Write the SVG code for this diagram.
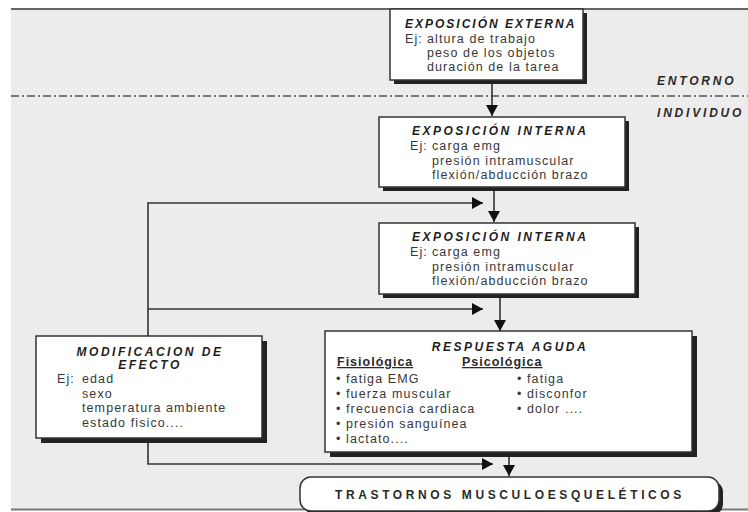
<svg xmlns="http://www.w3.org/2000/svg" width="748" height="512" viewBox="0 0 748 512">
<style>
text{font-family:"Liberation Sans",Arial,sans-serif;fill:#2a2a2a}
.t{font-size:12px;font-weight:bold;font-style:italic;letter-spacing:2.5px;fill:#1e1e1e}
.b{font-size:12.5px;letter-spacing:1.1px;fill:#383838}
.u{font-size:12.5px;font-weight:bold;text-decoration:underline;letter-spacing:1px}
.z{font-size:12px;font-weight:bold;font-style:italic;letter-spacing:2.8px}
.box{fill:#fff;stroke:#333;stroke-width:1.5}
.sh{fill:#222}
.c{fill:none;stroke:#333;stroke-width:1.6}
</style>
<defs>
<marker id="ah" markerUnits="userSpaceOnUse" markerWidth="12" markerHeight="12" refX="11" refY="6" orient="auto">
<path d="M0,0 L11,6 L0,12 z" fill="#111"/>
</marker>
</defs>
<rect x="11" y="9" width="737" height="500" fill="#ececec"/>
<line x1="11" y1="9" x2="748" y2="9" stroke="#666" stroke-width="2"/>
<line x1="11" y1="509.5" x2="748" y2="509.5" stroke="#777" stroke-width="2"/>
<line x1="11" y1="96" x2="748" y2="96" stroke="#777" stroke-width="2" stroke-dasharray="8 3 2 3"/>
<text class="z" x="657" y="85">ENTORNO</text>
<text class="z" x="657" y="117">INDIVIDUO</text>

<g id="connectors">
<line class="c" x1="492" y1="84" x2="492" y2="116" marker-end="url(#ah)"/>
<line class="c" x1="494" y1="191" x2="494" y2="222" marker-end="url(#ah)"/>
<polyline class="c" points="148,336 148,203 483,203" marker-end="url(#ah)"/>
<line class="c" x1="148" y1="309" x2="483" y2="309" marker-end="url(#ah)"/>
<line class="c" x1="500" y1="298" x2="500" y2="331" marker-end="url(#ah)"/>
<polyline class="c" points="148,442 148,464 493,464" marker-end="url(#ah)"/>
<line class="c" x1="509" y1="456" x2="509" y2="476" marker-end="url(#ah)"/>
</g>

<g id="exposicion-externa">
<rect class="sh" x="394" y="13" width="193" height="71"/>
<rect class="box" x="390" y="9" width="193" height="71"/>
<text class="t" x="405" y="28" style="letter-spacing:2px">EXPOSICIÓN EXTERNA</text>
<text class="b" x="405" y="43">Ej:</text>
<text class="b" x="427" y="43">altura de trabajo</text>
<text class="b" x="427" y="57">peso de los objetos</text>
<text class="b" x="427" y="71">duración de la tarea</text>
</g>

<g id="exposicion-interna-1">
<rect class="sh" x="383" y="121" width="246" height="70"/>
<rect class="box" x="379" y="117" width="246" height="70"/>
<text class="t" x="412" y="135">EXPOSICIÓN INTERNA</text>
<text class="b" x="410" y="150">Ej:</text>
<text class="b" x="432" y="150">carga emg</text>
<text class="b" x="432" y="164.5">presión intramuscular</text>
<text class="b" x="432" y="179">flexión/abducción brazo</text>
</g>

<g id="exposicion-interna-2">
<rect class="sh" x="383" y="227" width="256" height="71"/>
<rect class="box" x="379" y="223" width="256" height="71"/>
<text class="t" x="412" y="241">EXPOSICIÓN INTERNA</text>
<text class="b" x="410" y="256">Ej:</text>
<text class="b" x="432" y="256">carga emg</text>
<text class="b" x="432" y="270.5">presión intramuscular</text>
<text class="b" x="432" y="285">flexión/abducción brazo</text>
</g>

<g id="modificacion-efecto">
<rect class="sh" x="41" y="341" width="226" height="102"/>
<rect class="box" x="36" y="336" width="226" height="102"/>
<text class="t" x="150" y="356" text-anchor="middle">MODIFICACION DE</text>
<text class="t" x="150" y="369" text-anchor="middle">EFECTO</text>
<text class="b" x="57" y="383">Ej:</text>
<text class="b" x="82" y="383">edad</text>
<text class="b" x="82" y="397.5">sexo</text>
<text class="b" x="82" y="412">temperatura ambiente</text>
<text class="b" x="82" y="426.5">estado fisico....</text>
</g>

<g id="respuesta-aguda">
<rect class="sh" x="330" y="336" width="367" height="121"/>
<rect class="box" x="325" y="331" width="367" height="121"/>
<text class="t" x="510" y="351" text-anchor="middle">RESPUESTA AGUDA</text>
<text class="u" x="337" y="366">Fisiológica</text>
<text class="u" x="462" y="366">Psicológica</text>
<text class="b" x="336" y="383">• fatiga EMG</text>
<text class="b" x="336" y="398">• fuerza muscular</text>
<text class="b" x="336" y="413">• frecuencia cardiaca</text>
<text class="b" x="336" y="428">• presión sanguínea</text>
<text class="b" x="336" y="443">• lactato....</text>
<text class="b" x="517" y="383">• fatiga</text>
<text class="b" x="517" y="398">• disconfor</text>
<text class="b" x="517" y="413">• dolor ....</text>
</g>

<g id="trastornos">
<rect class="sh" x="304" y="481" width="419" height="34" rx="11"/>
<rect class="box" x="300" y="477" width="419" height="34" rx="11"/>
<text x="510" y="499" text-anchor="middle" style="font-size:12px;font-weight:bold;letter-spacing:3.6px">TRASTORNOS MUSCULOESQUELÉTICOS</text>
</g>
</svg>
